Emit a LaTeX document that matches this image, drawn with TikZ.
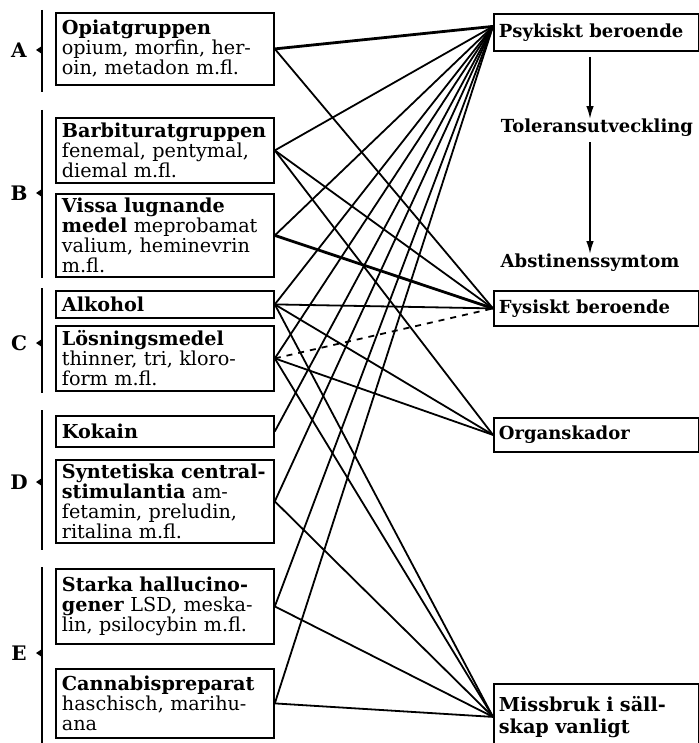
\documentclass[tikz,border=0pt]{standalone}
\usepackage{fontspec}
\setmainfont{DejaVu Serif}
\usetikzlibrary{arrows.meta,positioning}

\begin{document}
\begin{tikzpicture}[x=0.5pt,y=-0.5pt,font=\fontsize{9}{10}\selectfont,
 box/.style={draw,line width=0.9pt,anchor=north west,align=left,inner ysep=0.3pt},
 drug/.style={box,text width=103pt,inner xsep=3pt,font=\fontsize{9.6}{10}\selectfont},
 effect/.style={box,text width=97.5pt,inner xsep=2.5pt},
 plain/.style={inner sep=0pt,font=\fontsize{9}{10}\selectfont\bfseries},
 link/.style={line width=0.9pt},heavy/.style={line width=1.4pt},
 arr/.style={-{Latex[length=2.2mm,width=1.3mm]},line width=0.7pt}]
\useasboundingbox (0,0) rectangle (699,743);
% groups A--E
\foreach \g/\ya/\yb/\ym in {A/10/92/50,B/110/278/193,C/288/393/343,D/410/550/482,E/567/750/653}{
 \node[font=\fontsize{10}{10}\selectfont\bfseries] (grp\g) at (19,\ym) {\g};
 \draw[line width=1pt] (42,\ya) -- (42,\yb);
 \fill (42,\ym-4) -- (36,\ym) -- (42,\ym+4) -- cycle;
}
% substances
\node[drug,minimum height=36pt] (opiat) at (55,12) {\textbf{Opiatgruppen}\\opium, morfin, her-\\oin, metadon m.fl.};
\node[drug,minimum height=32.5pt] (barb) at (55,117) {\textbf{Barbituratgruppen}\\fenemal, pentymal,\\diemal m.fl.};
\node[drug,minimum height=41.5pt] (vissa) at (55,193) {\textbf{Vissa lugnande}\\\textbf{medel} meprobamat\\valium, heminevrin\\m.fl.};
\node[drug,minimum height=13.5pt] (alkohol) at (55,290) {\textbf{Alkohol}};
\node[drug,minimum height=32.5pt] (losning) at (55,325) {\textbf{Lösningsmedel}\\thinner, tri, kloro-\\form m.fl.};
\node[drug,minimum height=15.5pt] (kokain) at (55,415) {\textbf{Kokain}};
\node[drug,minimum height=41.5pt] (synt) at (55,459) {\textbf{Syntetiska central-}\\\textbf{stimulantia} am-\\fetamin, preludin,\\ritalina m.fl.};
\node[drug,minimum height=37.5pt] (starka) at (55,568) {\textbf{Starka hallucino-}\\\textbf{gener} LSD, meska-\\lin, psilocybin m.fl.};
\node[drug,minimum height=34.5pt] (cannabis) at (55,668) {\textbf{Cannabispreparat}\\haschisch, marihu-\\ana};
% effects
\node[effect,minimum height=18.5pt] (psyk) at (493,13) {\textbf{Psykiskt beroende}};
\node[plain] (tol) at (597,128) {Toleransutveckling};
\node[plain] (abst) at (590,263) {Abstinenssymtom};
\node[effect,minimum height=17.5pt] (fys) at (493,290) {\textbf{Fysiskt beroende}};
\node[effect,minimum height=17pt] (organ) at (493,417) {\textbf{Organskador}};
\node[effect,minimum height=33pt,font=\fontsize{9.6}{11}\selectfont] (missbruk) at (493,683) {\textbf{Missbruk i säll-}\\\textbf{skap vanligt}};
\coordinate (psykin) at ([yshift=3pt]psyk.west);
\draw[arr,shorten <=2.5pt] (psyk.south -| abst.north) -- (tol.north -| abst.north);
\draw[arr,shorten <=2.5pt] (tol.south -| abst.north) -- (abst.north);
% links
\draw[link,heavy] (opiat.east) -- (psykin);
\foreach \a in {barb,vissa,alkohol,losning,kokain,synt,starka,cannabis}
 \draw[link] (\a.east) -- (psykin);
\foreach \a in {opiat,barb,alkohol} \draw[link] (\a.east) -- (fys.west);
\draw[link,heavy] (vissa.east) -- (fys.west);
\draw[link,dashed] (losning.east) -- (fys.west);
\foreach \a in {barb,alkohol,losning} \draw[link] (\a.east) -- (organ.west);
\foreach \a in {alkohol,losning,synt,starka,cannabis} \draw[link] (\a.east) -- (missbruk.west);
\end{tikzpicture}
\end{document}
